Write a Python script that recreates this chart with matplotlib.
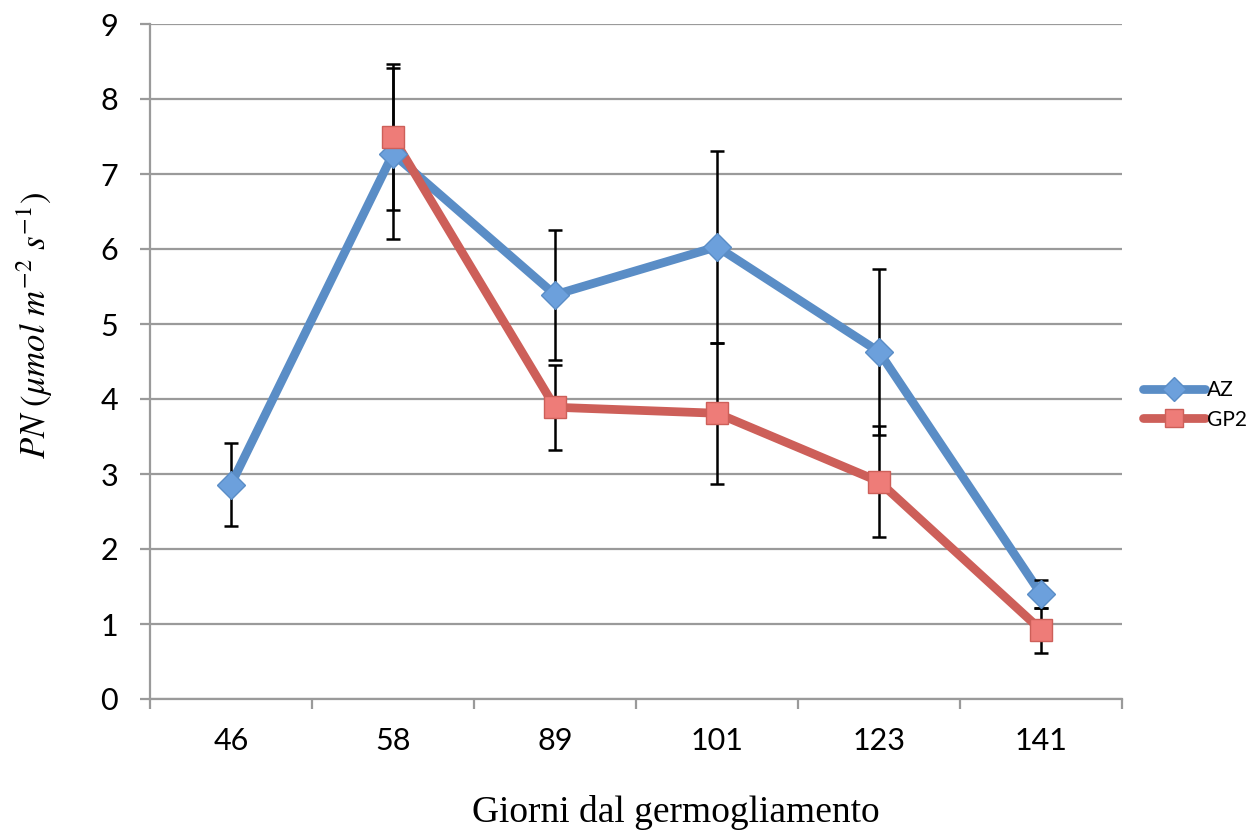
import matplotlib
matplotlib.use("Agg")
import matplotlib.pyplot as plt
import numpy as np

# data
giorni = ["46", "58", "89", "101", "123", "141"]
az_vals = [2.86, 7.27, 5.39, 6.03, 4.63, 1.40]
az_err = [0.55, 1.14, 0.87, 1.28, 1.11, 0.19]
gp2_vals = [None, 7.49, 3.89, 3.81, 2.90, 0.92]
gp2_err = [None, 0.97, 0.57, 0.94, 0.74, 0.30]

plt.rcParams['font.family'] = ['Lato', 'DejaVu Sans']
plt.rcParams['mathtext.fontset'] = 'stix'

fig = plt.figure(figsize=(12.57, 8.32), dpi=100)
ax = fig.add_axes([150/1257, 1 - 699/832, (1122-150)/1257, (699-24)/832])

x = np.arange(len(giorni))
gx = np.array([i for i, v in enumerate(gp2_vals) if v is not None])
gy = np.array([v for v in gp2_vals if v is not None])
ge = np.array([e for e in gp2_err if e is not None])

blue_line, blue_mk = '#5A8DC6', '#6CA0DC'
red_line, red_mk = '#CD5F59', '#EE7C78'

# lines
ax.plot(x, az_vals, color=blue_line, lw=6.3, zorder=3, solid_capstyle='round')
ax.plot(gx, gy, color=red_line, lw=6.3, zorder=3, solid_capstyle='round')

# error bars
ax.errorbar(x, az_vals, yerr=az_err, fmt='none', ecolor='black', elinewidth=1.8,
            capsize=5, capthick=1.8, zorder=4)
ax.errorbar(gx, gy, yerr=ge, fmt='none', ecolor='black', elinewidth=1.8,
            capsize=5, capthick=1.8, zorder=4)

# markers
ax.plot(x, az_vals, linestyle='none', marker='D', ms=14, mfc=blue_mk,
        mec=blue_line, mew=1, zorder=5)
ax.plot(gx, gy, linestyle='none', marker='s', ms=16, mfc=red_mk,
        mec=red_line, mew=1, zorder=5)

ax.set_xlim(-0.5, len(giorni) - 0.5)
ax.set_ylim(0, 9)
ax.set_yticks(range(0, 10))
ax.yaxis.grid(True, color='#9A9A9A', lw=1.6)
ax.set_axisbelow(True)

# category boundaries as ticks, labels at centers
ax.set_xticks(np.arange(-0.5, len(giorni), 1.0))
ax.set_xticklabels([])
ax.set_xticks(x, minor=True)
ax.set_xticklabels(giorni, minor=True)
ax.tick_params(axis='x', which='major', direction='out', length=7, width=1.6, color='#9A9A9A')
ax.tick_params(axis='x', which='minor', length=0, pad=20, labelsize=22)
ax.tick_params(axis='y', direction='out', length=7, width=1.6, color='#9A9A9A',
               pad=16, labelsize=22)

for s in ['top', 'right']:
    ax.spines[s].set_visible(False)
for s in ['left', 'bottom']:
    ax.spines[s].set_color('#9A9A9A')
    ax.spines[s].set_linewidth(1.6)

fig.text(676/1257, 1 - 812/832, 'Giorni dal germogliamento', family='Liberation Serif',
         fontsize=27, ha='center', va='center')
fig.text(35/1257, 1 - 325/832, r'$PN\ (\mu mol\ m^{-2}\ s^{-1})$', fontsize=25,
         rotation=90, ha='center', va='center')

# legend
h_az, = plt.plot([], [], color=blue_line, lw=6.3, marker='D', ms=12, mfc=blue_mk,
                 mec=blue_line, solid_capstyle='round')
h_gp, = plt.plot([], [], color=red_line, lw=6.3, marker='s', ms=13, mfc=red_mk,
                 mec=red_line, solid_capstyle='round')
fig.legend([h_az, h_gp], ['AZ', 'GP2'], loc='center left',
           bbox_to_anchor=(1124/1257, 1 - 405/832), frameon=False, fontsize=15,
           handlelength=3.0, handletextpad=0.1, labelspacing=0.45)

fig.savefig('out.png', dpi=100)
